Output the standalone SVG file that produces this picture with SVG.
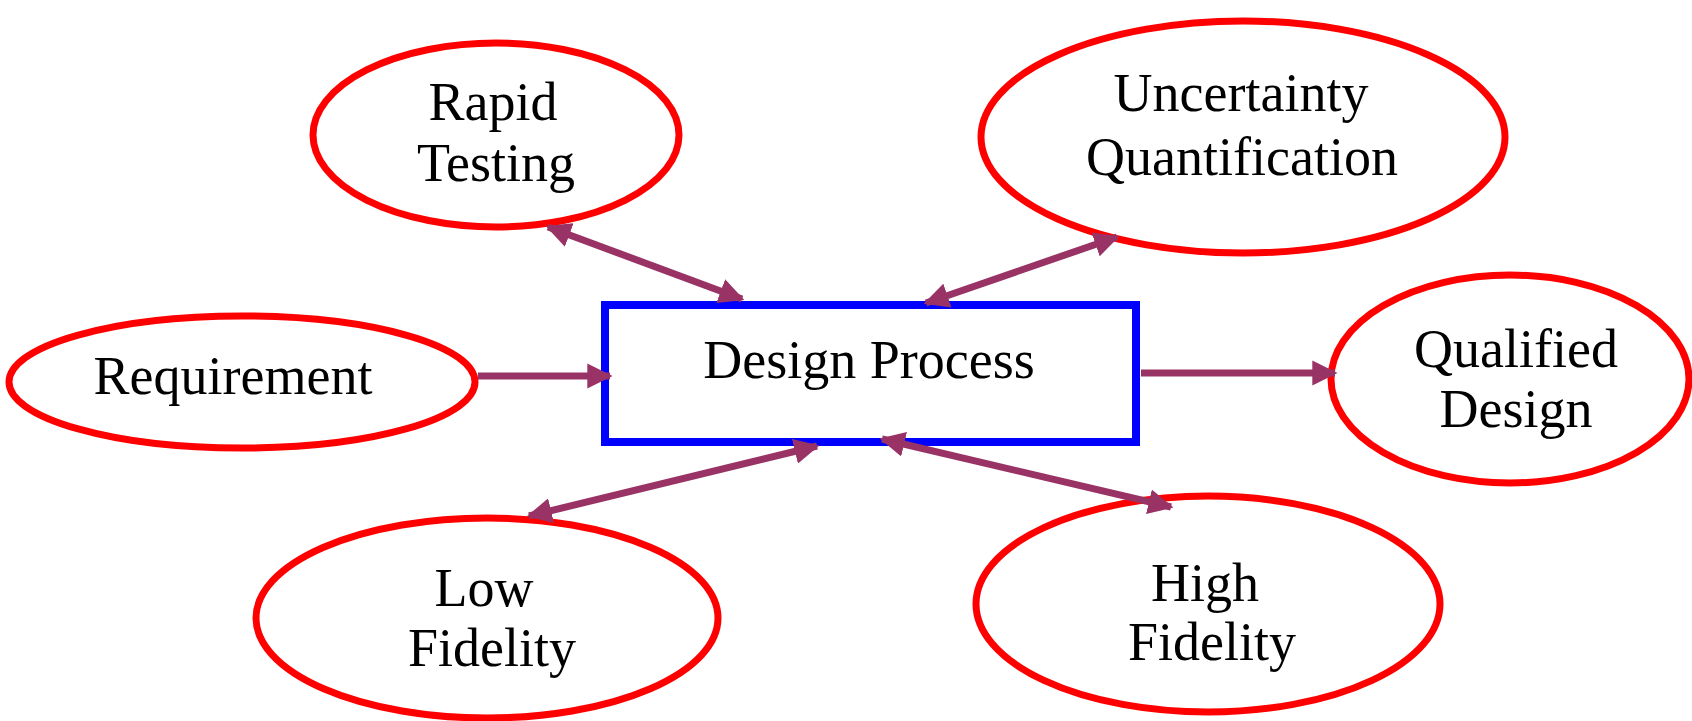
<svg xmlns="http://www.w3.org/2000/svg" width="1692" height="721" viewBox="0 0 1692 721">
<style>
.node ellipse{fill:#fff;stroke:#ff0000;stroke-width:7}
.box{fill:#fff;stroke:#0000ff;stroke-width:8}
text{font-family:"Liberation Serif","Times New Roman",serif;font-size:54px;fill:#000;text-anchor:middle}
.conn line{stroke:#993366;stroke-width:7}
</style>
<defs>
<marker id="ah" viewBox="0 0 10 10" refX="9" refY="5" markerWidth="3.6" markerHeight="3.6" orient="auto-start-reverse" markerUnits="strokeWidth">
<path d="M0,0 L10,5 L0,10 Z" fill="#993366"/>
</marker>
</defs>
<rect width="1692" height="721" fill="#fff"/>
<g id="rapid-testing" class="node">
<ellipse cx="496" cy="135" rx="183" ry="92"/>
<text x="493" y="120">Rapid</text>
<text x="496" y="181">Testing</text>
</g>
<g id="uncertainty-quantification" class="node">
<ellipse cx="1243" cy="137" rx="262" ry="116"/>
<text x="1241" y="111">Uncertainty</text>
<text x="1242" y="175">Quantification</text>
</g>
<g id="requirement" class="node">
<ellipse cx="242" cy="382" rx="233" ry="66"/>
<text x="233" y="394">Requirement</text>
</g>
<g id="design-process">
<rect class="box" x="605" y="305" width="531" height="137"/>
<text x="869" y="378">Design Process</text>
</g>
<g id="qualified-design" class="node">
<ellipse cx="1510" cy="379" rx="179" ry="104"/>
<text x="1516" y="367">Qualified</text>
<text x="1516" y="427">Design</text>
</g>
<g id="low-fidelity" class="node">
<ellipse cx="487" cy="618" rx="231" ry="100"/>
<text x="484" y="606">Low</text>
<text x="492" y="666">Fidelity</text>
</g>
<g id="high-fidelity" class="node">
<ellipse cx="1208" cy="604" rx="232" ry="108"/>
<text x="1205" y="601">High</text>
<text x="1212" y="660">Fidelity</text>
</g>
<g id="connectors" class="conn">
<line x1="548" y1="227" x2="742" y2="299" marker-start="url(#ah)" marker-end="url(#ah)"/>
<line x1="1117" y1="237" x2="926" y2="303" marker-start="url(#ah)" marker-end="url(#ah)"/>
<line x1="478" y1="376" x2="610" y2="376" marker-end="url(#ah)"/>
<line x1="1141" y1="373" x2="1335" y2="373" marker-end="url(#ah)"/>
<line x1="529" y1="516" x2="817" y2="446" marker-start="url(#ah)" marker-end="url(#ah)"/>
<line x1="882" y1="439" x2="1171" y2="507" marker-start="url(#ah)" marker-end="url(#ah)"/>
</g>
</svg>
